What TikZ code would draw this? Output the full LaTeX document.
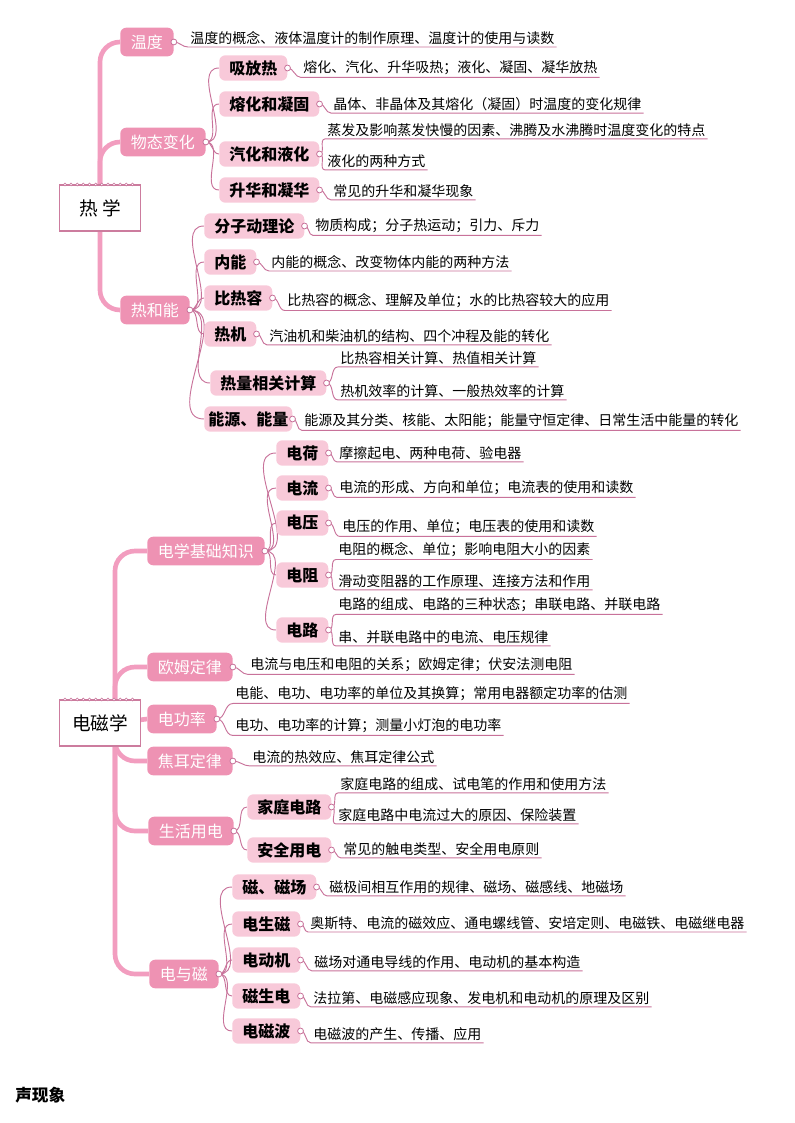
\documentclass[tikz,border=0pt]{standalone}
\usepackage{fontspec}
\setmainfont{Noto Sans CJK SC}
\usetikzlibrary{backgrounds}
\definecolor{trunkpink}{HTML}{F29DBF}
\definecolor{topicpink}{HTML}{EE92B3}
\definecolor{subpink}{HTML}{F8C9D9}
\definecolor{twigpink}{HTML}{C8729A}
\definecolor{rootline}{HTML}{CC7C9E}

\begin{document}
\begin{tikzpicture} [
        x = 0.75pt, y = -0.75pt,
        root/.style = {rectangle, draw=rootline, line width=0.8pt, fill=white, minimum width=60.75pt, minimum height=34.5pt, font=\fontsize{14}{16}\selectfont},
        topic/.style = {anchor=west, fill=topicpink, text=white, rounded corners=4.5pt, inner xsep=8pt, minimum height=21.5pt, font=\fontsize{12}{14}\selectfont},
        sub/.style = {anchor=west, fill=subpink, rounded corners=4.5pt, inner xsep=7.5pt, minimum height=19pt, font=\bfseries\fontsize{12}{14}\selectfont},
        leaf/.style = {anchor=west, inner xsep=1.5pt, inner ysep=1.6pt, font=\fontsize{10.5}{12}\selectfont},
        trunk/.style = {draw=trunkpink, line width=3.5pt, rounded corners=15pt},
        twig/.style = {draw=twigpink, line width=0.7pt},
        knot/.style = {draw=twigpink, fill=white, line width=0.6pt}
    ]
    \useasboundingbox (0,0) rectangle (794,1123);

    % 热学
    \node[root] (rx) at (100,208) {热 学};
    \node[topic] (wd) at (120,42)  {温度};
    \node[topic] (wt) at (120,142) {物态变化};
    \node[topic] (rn) at (120,310) {热和能};

    \node[sub] (xf) at (219,68)  {吸放热};
    \node[sub] (rh) at (219,104) {熔化和凝固};
    \node[sub] (qh) at (219,154) {汽化和液化};
    \node[sub] (sh) at (219,190) {升华和凝华};
    \node[sub] (fz) at (204,226) {分子动理论};
    \node[sub] (nn) at (204,262) {内能};
    \node[sub] (br) at (204,298) {比热容};
    \node[sub] (rj) at (204,334) {热机};
    \node[sub] (rl) at (210,383) {热量相关计算};
    \node[sub, inner xsep=3pt] (ny) at (204,419) {能源、能量};

    \node[leaf] (wd1) at (188,38)  {温度的概念、液体温度计的制作原理、温度计的使用与读数};
    \node[leaf] (xf1) at (301,68)  {熔化、汽化、升华吸热；液化、凝固、凝华放热};
    \node[leaf] (rh1) at (331,104) {晶体、非晶体及其熔化（凝固）时温度的变化规律};
    \node[leaf] (qh1) at (325,130) {蒸发及影响蒸发快慢的因素、沸腾及水沸腾时温度变化的特点};
    \node[leaf] (qh2) at (325,161) {液化的两种方式};
    \node[leaf] (sh1) at (331,191) {常见的升华和凝华现象};
    \node[leaf] (fz1) at (313,226) {物质构成；分子热运动；引力、斥力};
    \node[leaf] (nn1) at (269,262) {内能的概念、改变物体内能的两种方法};
    \node[leaf] (br1) at (285,301) {比热容的概念、理解及单位；水的比热容较大的应用};
    \node[leaf] (rj1) at (267,336) {汽油机和柴油机的结构、四个冲程及能的转化};
    \node[leaf] (rl1) at (338,358) {比热容相关计算、热值相关计算};
    \node[leaf] (rl2) at (338,391) {热机效率的计算、一般热效率的计算};
    \node[leaf] (ny1) at (302,421) {能源及其分类、核能、太阳能；能量守恒定律、日常生活中能量的转化};

    % 电磁学
    \node[root] (dc) at (100,723) {电磁学};
    \coordinate (dk) at (115,723);
    \node[topic] (jc) at (147,551)  {电学基础知识};
    \node[topic] (om) at (147,667)  {欧姆定律};
    \node[topic] (gl) at (147,719)  {电功率};
    \node[topic] (je) at (147,761)  {焦耳定律};
    \node[topic] (yd) at (148,831)  {生活用电};
    \node[topic] (dy) at (149,974)  {电与磁};

    \node[sub] (dh)  at (276,453)  {电荷};
    \node[sub] (dl)  at (276,488)  {电流};
    \node[sub] (dya) at (276,523)  {电压};
    \node[sub] (dz)  at (276,575)  {电阻};
    \node[sub] (dlu) at (276,630)  {电路};
    \node[sub] (jt)  at (247,807)  {家庭电路};
    \node[sub] (aq)  at (247,850)  {安全用电};
    \node[sub] (cc)  at (232,887)  {磁、磁场};
    \node[sub] (dsc) at (232,924)  {电生磁};
    \node[sub] (ddj) at (232,960)  {电动机};
    \node[sub] (csd) at (232,996)  {磁生电};
    \node[sub] (dcb) at (232,1031) {电磁波};

    \node[leaf] (dh1)  at (337,453)  {摩擦起电、两种电荷、验电器};
    \node[leaf] (dl1)  at (337,488)  {电流的形成、方向和单位；电流表的使用和读数};
    \node[leaf] (dya1) at (340,527)  {电压的作用、单位；电压表的使用和读数};
    \node[leaf] (dz1)  at (336,550)  {电阻的概念、单位；影响电阻大小的因素};
    \node[leaf] (dz2)  at (336,581)  {滑动变阻器的工作原理、连接方法和作用};
    \node[leaf] (dlu1) at (336,605)  {电路的组成、电路的三种状态；串联电路、并联电路};
    \node[leaf] (dlu2) at (336,637)  {串、并联电路中的电流、电压规律};
    \node[leaf] (om1)  at (248,665)  {电流与电压和电阻的关系；欧姆定律；伏安法测电阻};
    \node[leaf] (gl1)  at (233,694)  {电能、电功、电功率的单位及其换算；常用电器额定功率的估测};
    \node[leaf] (gl2)  at (233,726)  {电功、电功率的计算；测量小灯泡的电功率};
    \node[leaf] (je1)  at (250,757)  {电流的热效应、焦耳定律公式};
    \node[leaf] (jt1)  at (338,784)  {家庭电路的组成、试电笔的作用和使用方法};
    \node[leaf] (jt2)  at (336,815)  {家庭电路中电流过大的原因、保险装置};
    \node[leaf] (aq1)  at (341,849)  {常见的触电类型、安全用电原则};
    \node[leaf] (cc1)  at (327,887)  {磁极间相互作用的规律、磁场、磁感线、地磁场};
    \node[leaf] (dsc1) at (308,923)  {奥斯特、电流的磁效应、通电螺线管、安培定则、电磁铁、电磁继电器};
    \node[leaf] (ddj1) at (312,962)  {磁场对通电导线的作用、电动机的基本构造};
    \node[leaf] (csd1) at (311,998)  {法拉第、电磁感应现象、发电机和电动机的原理及区别};
    \node[leaf] (dcb1) at (311,1034) {电磁波的产生、传播、应用};

    \node[anchor=west, inner sep=0pt, font=\bfseries\fontsize{12.5}{14}\selectfont] (sx) at (15,1095) {声现象};

    % connectors behind the boxes
    \begin{scope}[on background layer]
        \draw[trunk] (rx.center) |- (wd.west);
        \draw[trunk] (rx.center) |- (wt.west);
        \draw[trunk] (rx.center) |- (rn.west);
        \draw[trunk] (dk) |- (jc.west);
        \draw[trunk] (dk) |- (om.west);
        \draw[trunk] (dk) -- (gl.west);
        \draw[trunk] (dk) |- (je.west);
        \draw[trunk] (dk) |- (yd.west);
        \draw[trunk] (dk) |- (dy.west);

        \foreach \a/\b in {wt/xf, wt/rh, wt/qh, wt/sh, rn/fz, rn/nn, rn/br, rn/rj, rn/rl, rn/ny,
                jc/dh, jc/dl, jc/dya, jc/dz, jc/dlu, yd/jt, yd/aq,
                dy/cc, dy/dsc, dy/ddj, dy/csd, dy/dcb}
            \draw[twig] (\a.east) to[out=0, in=180] (\b.west);

        \foreach \a/\b in {wd/wd1, xf/xf1, rh/rh1, qh/qh1, qh/qh2, sh/sh1, fz/fz1, nn/nn1, br/br1,
                rj/rj1, rl/rl1, rl/rl2, ny/ny1, dh/dh1, dl/dl1, dya/dya1, dz/dz1, dz/dz2,
                dlu/dlu1, dlu/dlu2, om/om1, gl/gl1, gl/gl2, je/je1, jt/jt1, jt/jt2, aq/aq1,
                cc/cc1, dsc/dsc1, ddj/ddj1, csd/csd1, dcb/dcb1}
            \draw[twig] (\a.east) to[out=0, in=180] (\b.south west) -- (\b.south east);
    \end{scope}

    % small rings on the boxes
    \foreach \n in {wd, wt, rn, xf, rh, qh, sh, fz, nn, br, rj, rl, ny,
            jc, om, gl, je, yd, dy, dh, dl, dya, dz, dlu, jt, aq, cc, dsc, ddj, csd, dcb}
        \draw[knot] (\n.east) circle (2.2pt);

    % binder dots on the root boxes
    \foreach \r in {rx, dc}
        \foreach \i in {0,...,11}
            \draw[knot, line width=0.4pt] ([xshift=4.5pt+\i*4.6pt]\r.north west) circle (1.1pt);

\end{tikzpicture}
\end{document}
